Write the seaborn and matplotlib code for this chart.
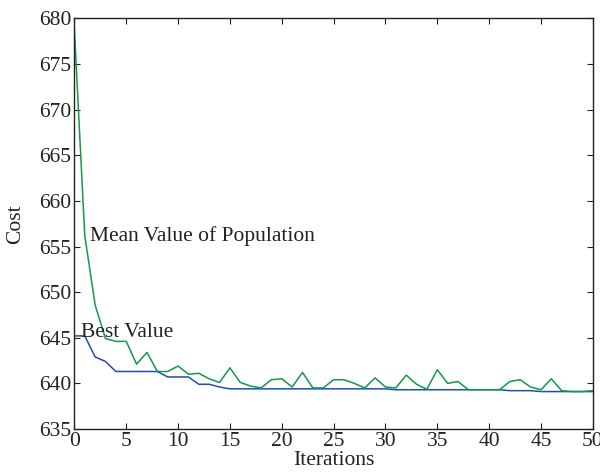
import matplotlib
matplotlib.use("Agg")
import matplotlib.pyplot as plt
import seaborn as sns
import numpy as np
import pandas as pd

iterations = list(range(0, 51))
mean_values = [678.8, 656.2, 648.6, 644.9, 644.6, 644.6, 642.1, 643.4, 641.3, 641.3,
               641.9, 641.0, 641.1, 640.5, 640.1, 641.7, 640.1, 639.7, 639.5, 640.4,
               640.5, 639.6, 641.2, 639.5, 639.5, 640.4, 640.4, 640.0, 639.5, 640.6,
               639.6, 639.5, 640.9, 639.9, 639.35, 641.5, 640.0, 640.2, 639.3, 639.3,
               639.3, 639.3, 640.2, 640.4, 639.6, 639.3, 640.5, 639.2, 639.1, 639.1,
               639.2]
best_values = [645.2, 645.2, 642.9, 642.4, 641.3, 641.3, 641.3, 641.3, 641.3, 640.7,
               640.7, 640.7, 639.9, 639.9, 639.6, 639.4, 639.4, 639.4, 639.4, 639.4,
               639.4, 639.4, 639.4, 639.4, 639.4, 639.4, 639.4, 639.4, 639.4, 639.4,
               639.4, 639.3, 639.3, 639.3, 639.3, 639.3, 639.3, 639.3, 639.3, 639.3,
               639.3, 639.3, 639.2, 639.2, 639.2, 639.1, 639.1, 639.1, 639.1, 639.1,
               639.1]
x_ticks = [0, 5, 10, 15, 20, 25, 30, 35, 40, 45, 50]
y_ticks = [635, 640, 645, 650, 655, 660, 665, 670, 675, 680]

sns.set_theme(style="ticks")
plt.rcParams['font.family'] = ['Liberation Serif', 'DejaVu Serif']

df = pd.DataFrame({"Iterations": iterations, "mean": mean_values, "best": best_values})

fig = plt.figure(figsize=(6.0, 4.74), dpi=100)
ax = fig.add_axes([0.124, 0.095, 0.864, 0.866])

sns.lineplot(data=df, x="Iterations", y="best", ax=ax, color="#1f4fb4", linewidth=1.1)
sns.lineplot(data=df, x="Iterations", y="mean", ax=ax, color="#12994a", linewidth=1.1)

FS = 15.5
ax.set_xlim(0, 50)
ax.set_ylim(635, 680)
ax.set_xticks(x_ticks)
ax.set_yticks(y_ticks)
ax.tick_params(direction="in", top=True, right=True, labelsize=FS, length=4,
               width=0.8, colors="#222222", pad=2)
for s in ax.spines.values():
    s.set_visible(True)
    s.set_linewidth(1.0)
    s.set_color("#222222")
ax.set_xlabel("Iterations", fontsize=FS, labelpad=0.5, color="#222222")
ax.set_ylabel("Cost", fontsize=FS, labelpad=10, color="#222222")
ax.grid(False)

ax.text(1.5, 656.2, "Mean Value of Population", fontsize=FS, va="center", ha="left", color="#222222")
ax.text(0.65, 645.6, "Best Value", fontsize=FS, va="center", ha="left", color="#222222")

fig.savefig("out.png", dpi=100)
